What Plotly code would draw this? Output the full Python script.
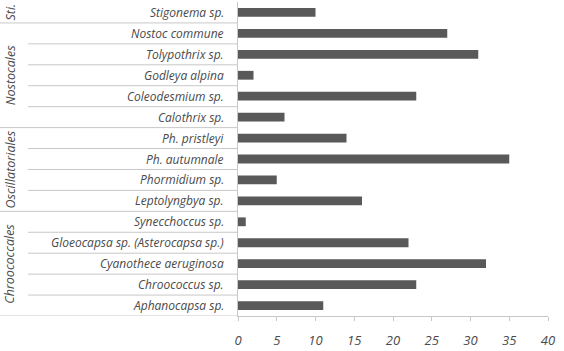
import plotly.graph_objects as go

species = ["Stigonema sp.", "Nostoc commune", "Tolypothrix sp.", "Godleya alpina",
           "Coleodesmium sp.", "Calothrix sp.", "Ph. pristleyi", "Ph. autumnale",
           "Phormidium sp.", "Leptolyngbya sp.", "Synecchoccus sp.",
           "Gloeocapsa sp. (Asterocapsa sp.)", "Cyanothece aeruginosa",
           "Chroococcus sp.", "Aphanocapsa sp."]
values = [10, 27, 31, 2, 23, 6, 14, 35, 5, 16, 1, 22, 32, 23, 11]
groups = ["Sti.", "Nostocales", "Oscillatoriales", "Chroococcales"]
group_sizes = [1, 5, 4, 5]
x_ticks = [0, 5, 10, 15, 20, 25, 30, 35, 40]

TXT = "#4a4a4a"
LINE = "#c8c8c8"
FONT = "Open Sans"
LEFT_PX = 238.0
RIGHT_PX = 16.0
plot_w = 564 - LEFT_PX - RIGHT_PX

fig = go.Figure(go.Bar(
    x=values, y=species, orientation="h",
    marker=dict(color="#595959", line=dict(width=0)),
    width=0.42,
))

shapes = []
annotations = []
n = len(species)
group_ends = []
acc = 0
for s in group_sizes:
    acc += s
    group_ends.append(acc)
for i in range(1, n + 1):
    y = i - 0.5
    start_px = 0.0 if i in group_ends else 28.0
    shapes.append(dict(type="line", xref="paper", yref="y",
                       x0=-(LEFT_PX - start_px) / plot_w, x1=0, y0=y, y1=y,
                       line=dict(color=LINE, width=1)))

for i, name in enumerate(species):
    annotations.append(dict(text=name, xref="paper", yref="y",
                            x=-12 / plot_w, y=i, xanchor="right", yanchor="middle",
                            showarrow=False,
                            font=dict(family=FONT, size=12, color=TXT, style="italic")))
start = 0
for g, s in zip(groups, group_sizes):
    mid = start + (s - 1) / 2
    annotations.append(dict(text=g, xref="paper", yref="y",
                            x=-(LEFT_PX - 10) / plot_w, y=mid, xanchor="center",
                            yanchor="middle", textangle=-90, showarrow=False,
                            font=dict(family=FONT, size=12.5, color=TXT, style="italic")))
    start += s

fig.update_layout(
    width=564, height=351,
    margin=dict(l=LEFT_PX, r=RIGHT_PX, t=2, b=33),
    paper_bgcolor="white", plot_bgcolor="white",
    showlegend=False,
    shapes=shapes,
    annotations=annotations,
    xaxis=dict(range=[0, 40], tickvals=x_ticks, showgrid=False, zeroline=False,
               showline=True, linecolor=LINE, linewidth=1,
               ticks="outside", ticklen=4, tickcolor=LINE,
               ticklabelstandoff=8,
               tickfont=dict(family=FONT, size=13, color=TXT, style="italic")),
    yaxis=dict(categoryorder="array", categoryarray=species,
               autorange=False, range=[n - 0.5, -0.5], showticklabels=False,
               showgrid=False, zeroline=False, showline=True, linecolor=LINE,
               linewidth=1, ticks=""),
)

fig.write_html("out.html")
